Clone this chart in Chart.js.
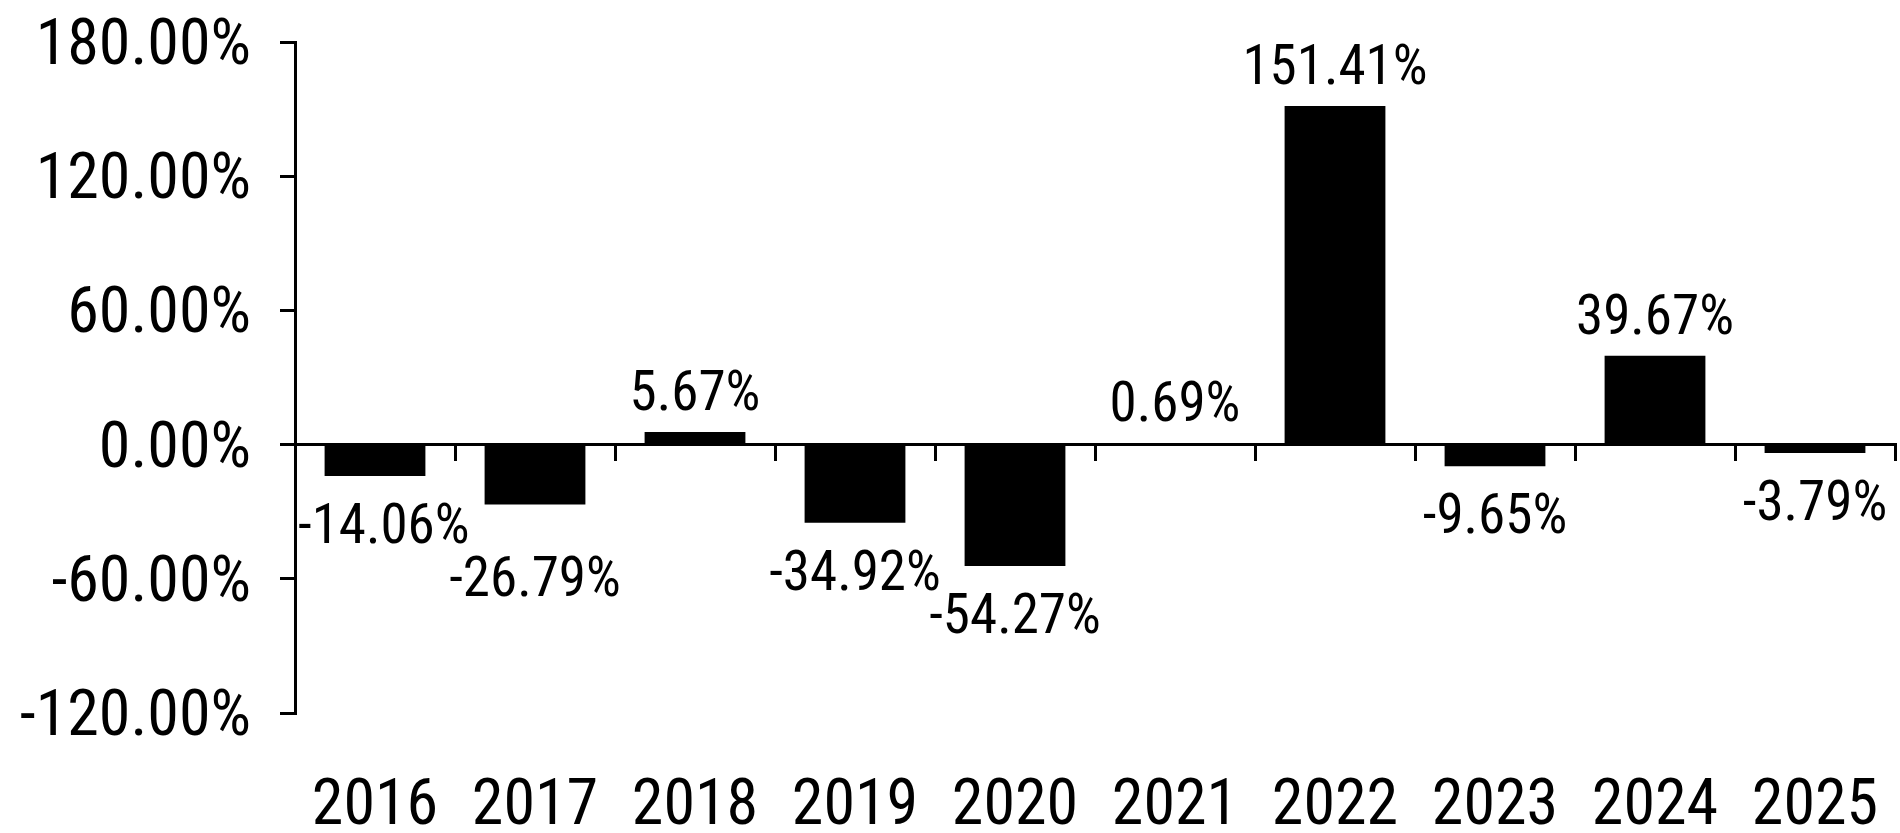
<!DOCTYPE html>
<html>
<head>
<meta charset="utf-8">
<script src="https://cdn.jsdelivr.net/npm/chart.js@4/dist/chart.umd.min.js"></script>
<style>
  html, body { margin: 0; padding: 0; background: #fff; }
  #wrap { width: 1900px; height: 833px; }
</style>
</head>
<body>
<div id="wrap"><canvas id="bars"></canvas></div>
<script>
// yearly returns
const years = ['2016', '2017', '2018', '2019', '2020', '2021', '2022', '2023', '2024', '2025'];
const returns = [-14.06, -26.79, 5.67, -34.92, -54.27, 0.69, 151.41, -9.65, 39.67, -3.79];
const yTicks = [-120, -60, 0, 60, 120, 180];

const FONT = "'Roboto Condensed', Roboto, sans-serif";
const pct = v => v.toFixed(2) + '%';

// value labels above / below each bar, pushed down when they would overlap the previous one
const valueLabels = {
  id: 'valueLabels',
  afterDatasetsDraw(chart) {
    const ctx = chart.ctx;
    const area = chart.chartArea;
    const meta = chart.getDatasetMeta(0);
    const size = 55;
    const cap = size * 0.711;
    let prev = null;
    ctx.save();
    ctx.font = size + 'px ' + FONT;
    ctx.fillStyle = '#000';
    ctx.textAlign = 'left';
    ctx.textBaseline = 'alphabetic';
    meta.data.forEach((bar, i) => {
      const v = returns[i];
      const txt = pct(v);
      const w = ctx.measureText(txt).width;
      let x = bar.x - w / 2;
      if (x < area.left + 3) x = area.left + 3;
      if (x + w > area.right) x = area.right - w;
      let y;
      if (v >= 0) {
        y = bar.y - 22;
      } else {
        y = bar.y + 28 + cap;
        if (prev && prev.neg && x < prev.x + prev.w && y - cap < prev.y) {
          y = prev.y + 14 + cap;
        }
      }
      ctx.fillText(txt, x, y);
      prev = { x, y, w, neg: v < 0 };
    });
    ctx.restore();
  }
};

const noSidePad = s => { s.paddingLeft = 0; s.paddingRight = 0; };

new Chart(document.getElementById('bars'), {
  type: 'bar',
  data: {
    labels: years,
    datasets: [{
      data: returns,
      backgroundColor: '#000',
      borderWidth: 0,
      categoryPercentage: 1,
      barPercentage: 0.63
    }]
  },
  options: {
    responsive: true,
    maintainAspectRatio: false,
    animation: false,
    events: [],
    layout: { padding: { top: 42, right: 5, bottom: 4, left: 20 } },
    plugins: { legend: { display: false }, tooltip: { enabled: false } },
    scales: {
      x: {
        position: 'bottom',
        grid: { display: false, drawTicks: false },
        border: { display: false },
        afterFit: s => { s.height = 116; noSidePad(s); },
        ticks: { color: '#000', padding: 57, font: { family: FONT, size: 64 }, maxRotation: 0, autoSkip: false }
      },
      // zero line with upward category ticks
      x2: {
        type: 'category',
        labels: years,
        position: { y: 0 },
        offset: true,
        afterFit: s => { s.height = 0; noSidePad(s); },
        grid: { offset: true, drawOnChartArea: false, tickLength: 15, lineWidth: 3, color: '#000' },
        border: { display: true, color: '#000', width: 3 },
        ticks: { display: false }
      },
      y: {
        min: -120,
        max: 180,
        afterBuildTicks: s => { s.ticks = yTicks.map(v => ({ value: v })); },
        afterFit: s => { s.width = 275; s.paddingTop = 0; s.paddingBottom = 0; },
        grid: { drawOnChartArea: false, tickLength: 15, lineWidth: 3, color: '#000' },
        border: { display: true, color: '#000', width: 3 },
        // empty first line nudges the label a little below its tick, as in the original
        ticks: { color: '#000', padding: 29, font: { family: FONT, size: 64, lineHeight: '12px' }, callback: v => ['', pct(v)] }
      }
    }
  },
  plugins: [valueLabels]
});
</script>
</body>
</html>
